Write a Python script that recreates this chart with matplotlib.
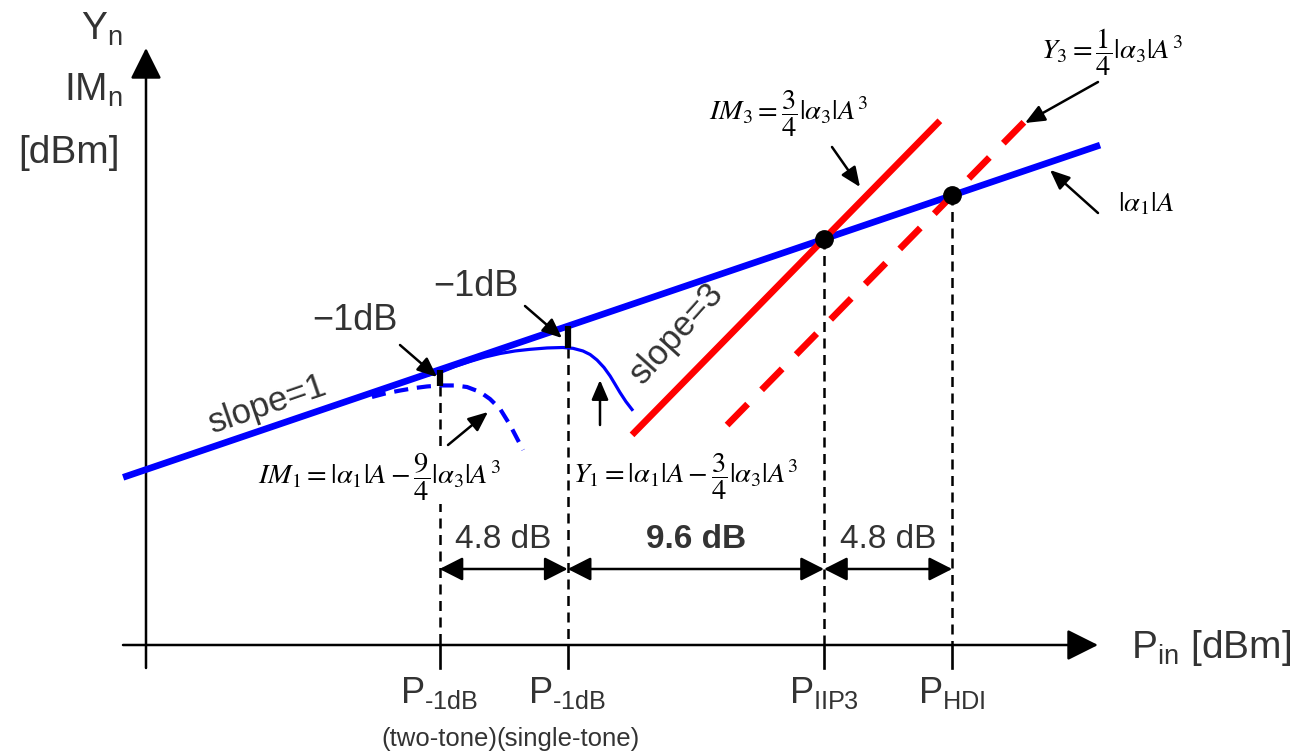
import numpy as np
import matplotlib.pyplot as plt

plt.rcParams['font.family'] = ['Liberation Sans', 'DejaVu Sans']
plt.rcParams['mathtext.fontset'] = 'custom'
plt.rcParams['mathtext.rm'] = 'Liberation Sans'
plt.rcParams['mathtext.it'] = 'Liberation Sans:italic'
plt.rcParams['mathtext.bf'] = 'Liberation Sans:bold'

# input power marks, dB relative to IIP3
p_marks = [-14.4, -9.6, 0.0, 4.8]
p_names = [r'P$_{\mathrm{‐1dB}}$', r'P$_{\mathrm{‐1dB}}$', r'P$_{\mathrm{IIP3}}$', r'P$_{\mathrm{HDI}}$']
p_notes = ['(two-tone)', '(single-tone)', '', '']
gap_labels = ['4.8 dB', '9.6 dB', '4.8 dB']

# straight lines (x range of each), slope 1 and slope 3
fund_x = [-26.25, 10.34]
im3_x = [-7.19, 4.34]
y3_x = [-3.63, 7.72]
y3_offset = -9.6

# single-tone compression curve Y1
y1_x = [-14.94, -14.38, -13.82, -13.26, -12.70, -12.13, -11.57, -11.01, -10.37, -9.78,
        -9.40, -9.03, -8.76, -8.50, -8.24, -8.01, -7.83, -7.64, -7.42, -7.19]
y1_y = [-15.03, -14.70, -14.04, -13.49, -13.00, -12.61, -12.33, -12.15, -12.00, -11.95,
        -12.04, -12.33, -12.72, -13.33, -14.15, -15.09, -15.97, -16.91, -17.90, -18.78]

# two-tone curve IM1
im1_x = [-16.93, -16.44, -15.88, -15.32, -14.87, -14.38, -13.82, -13.37, -12.88, -12.51,
         -12.13, -11.76, -11.27]
im1_y = [-17.40, -17.02, -16.69, -16.41, -16.24, -16.13, -16.13, -16.30, -16.85, -17.62,
         -18.72, -20.48, -23.24]

BLUE = '#0000ff'
RED = '#ff0000'
TXT = '#333333'

# pixel -> data helper (picture is 1307 x 754)
X0, Y0, XS, YS = 824, 239, 26.7, 9.08


def P(px, py):
    return ((px - X0) / XS, (Y0 - py) / YS)


fig = plt.figure(figsize=(13.07, 7.54), dpi=100)
ax = fig.add_axes([0, 0, 1, 1])
ax.axis('off')
ax.set_xlim(P(0, 0)[0], P(1307, 0)[0])
ax.set_ylim(P(0, 754)[1], P(0, 0)[1])

axis_y = P(0, 645)[1]

# axes arrows
head = '-|>,head_length=0.4,head_width=0.2'
ax.annotate('', xy=P(146, 48), xytext=P(146, 668),
            arrowprops=dict(arrowstyle=head, mutation_scale=48, lw=1.8, color='k',
                            shrinkA=0, shrinkB=0))
ax.annotate('', xy=P(1098, 645), xytext=P(123, 645),
            arrowprops=dict(arrowstyle=head, mutation_scale=48, lw=1.8, color='k',
                            shrinkA=0, shrinkB=0))

# main lines
fx = np.array(fund_x)
ax.plot(fx, fx, color=BLUE, lw=4.8, solid_capstyle='butt', zorder=3)
ix = np.array(im3_x)
ax.plot(ix, 3 * ix, color=RED, lw=4.8, solid_capstyle='butt', zorder=4)
hx = np.array(y3_x)
ax.plot(hx, 3 * hx + y3_offset, color=RED, lw=4.8, dashes=(4.4, 3.0),
        dash_capstyle='butt', zorder=4)

ax.plot(y1_x, y1_y, color=BLUE, lw=2.3, zorder=3)
ax.plot(im1_x, im1_y, color=BLUE, lw=3.0, dashes=(3.4, 2.1), dash_capstyle='butt', zorder=3)

# markers and vertical guides
tick_len = 23 / YS
for i, p in enumerate(p_marks):
    if i == 0:
        yb = np.interp(p, im1_x, im1_y)
    elif i == 1:
        yb = np.interp(p, y1_x, y1_y)
    else:
        yb = p
    if i < 2:
        ax.plot([p, p], [p, yb], color='k', lw=4.5, solid_capstyle='butt', zorder=5)
    ax.plot([p, p], [yb, axis_y], color='k', lw=1.8, dashes=(4, 2.6), zorder=2)
    ax.plot([p, p], [axis_y, axis_y - tick_len], color='k', lw=1.9, zorder=2)
    ax.text(p, P(0, 703)[1], p_names[i], ha='center', va='baseline', fontsize=26, color=TXT)
    if p_notes[i]:
        ax.text(p, P(0, 746)[1], p_notes[i], ha='center', va='baseline', fontsize=18.5,
                color=TXT)

for p in p_marks[2:]:
    ax.plot(p, p, 'o', color='k', ms=12.5, zorder=6)

# dimension arrows
dim_y = P(0, 569)[1]
for i in range(3):
    ax.annotate('', xy=(p_marks[i + 1], dim_y), xytext=(p_marks[i], dim_y),
                arrowprops=dict(arrowstyle='<|-|>,head_length=0.75,head_width=0.38',
                                mutation_scale=19, lw=1.8, color='k', shrinkA=0, shrinkB=0))
    ax.text((p_marks[i] + p_marks[i + 1]) / 2, P(0, 540)[1], gap_labels[i], ha='center',
            va='center', fontsize=24, color=TXT, weight='bold' if i == 1 else 'normal')

# axis labels
ax.text(*P(123, 40), r'Y$_{\mathrm{n}}$', ha='right', va='baseline', fontsize=28, color=TXT)
ax.text(*P(123, 101), r'IM$_{\mathrm{n}}$', ha='right', va='baseline', fontsize=28, color=TXT)
ax.text(*P(120, 163), '[dBm]', ha='right', va='baseline', fontsize=28, color=TXT)
ax.text(*P(1131, 658), r'P$_{\mathrm{in}}$ [dBm]', ha='left', va='baseline', fontsize=28,
        color=TXT)

# text annotations
ax.text(*P(355, 321), '\u22121dB', ha='center', va='center', fontsize=26, color=TXT)
ax.text(*P(476, 287), '\u22121dB', ha='center', va='center', fontsize=26, color=TXT)
ax.text(*P(268, 404), 'slope=1', ha='center', va='center', fontsize=25, color=TXT,
        rotation=19, rotation_mode='anchor')
ax.text(*P(677, 333), 'slope=3', ha='center', va='center', fontsize=25, color=TXT,
        rotation=48, rotation_mode='anchor')

MS = 20.5
ax.text(*P(379, 477), r'$IM_1=|\alpha_1|A-\dfrac{9}{4}|\alpha_3|A^3$', ha='center',
        va='center', fontsize=MS, math_fontfamily='stix', zorder=6,
        bbox=dict(facecolor='white', edgecolor='none', pad=1))
ax.text(*P(686, 477), r'$Y_1=|\alpha_1|A-\dfrac{3}{4}|\alpha_3|A^3$', ha='center',
        va='center', fontsize=MS, math_fontfamily='stix')
ax.text(*P(789, 114), r'$IM_3=\dfrac{3}{4}|\alpha_3|A^3$', ha='center', va='center',
        fontsize=MS, math_fontfamily='stix')
ax.text(*P(1112, 52), r'$Y_3=\dfrac{1}{4}|\alpha_3|A^3$', ha='center', va='center',
        fontsize=MS, math_fontfamily='stix')
ax.text(*P(1146, 204), r'$|\alpha_1|A$', ha='center', va='center',
        fontsize=MS, math_fontfamily='stix')

# pointer arrows (start, tip) in picture pixels
pointers = [((400, 345), (437, 377)), ((525, 306), (562, 338)), ((448, 445), (488, 412)),
            ((600, 425), (600, 380)), ((832, 147), (860, 187)), ((1098, 82), (1025, 123)),
            ((1098, 213), (1050, 170))]
for s, t in pointers:
    ax.annotate('', xy=P(*t), xytext=P(*s),
                arrowprops=dict(arrowstyle='-|>,head_length=0.7,head_width=0.3',
                                mutation_scale=17, lw=1.8, color='k', shrinkA=0, shrinkB=0))

fig.savefig('out.png', dpi=100)
